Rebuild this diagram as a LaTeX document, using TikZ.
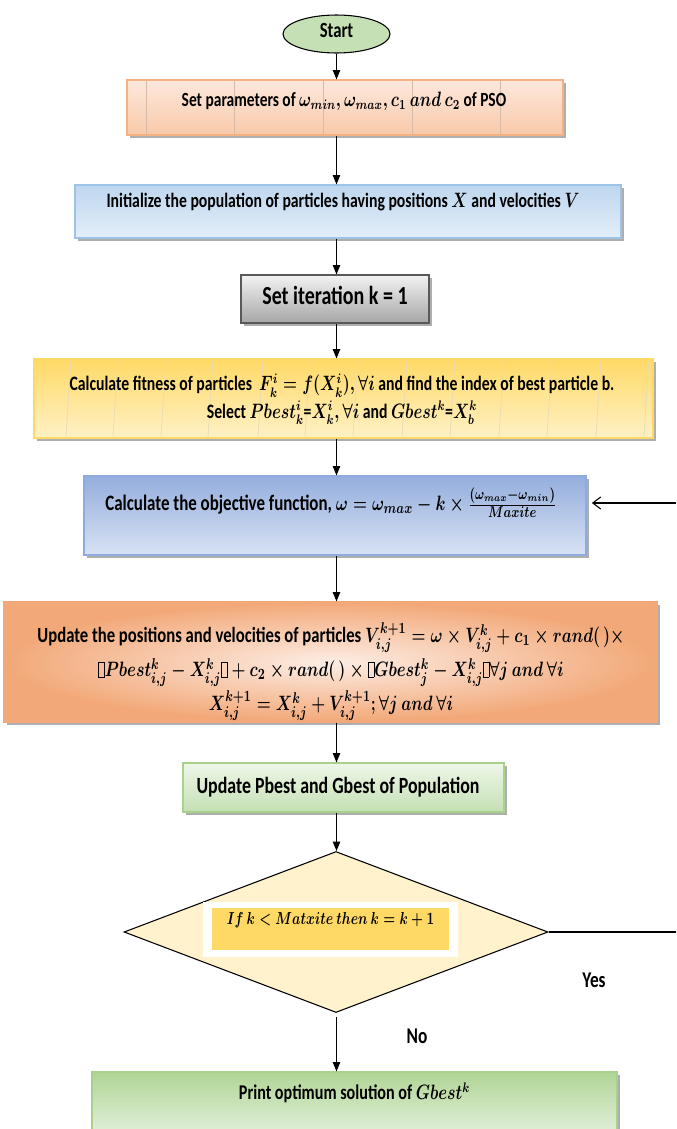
\documentclass[tikz,border=0pt]{standalone}
\usepackage{amsmath,amssymb,graphicx}
\usepackage{fontspec}
\setmainfont{Carlito}
\usetikzlibrary{shapes.geometric,shadows,arrows.meta}
\definecolor{orBord}{HTML}{F4B183}
\definecolor{orTop}{HTML}{FDE8DC}
\definecolor{orBot}{HTML}{F8C9A9}
\definecolor{blBord}{HTML}{9DC3E6}
\definecolor{blTop}{HTML}{BED6EE}
\definecolor{blBot}{HTML}{E3EEF9}
\definecolor{gyTop}{HTML}{F2F2F2}
\definecolor{gyBot}{HTML}{A6A6A6}
\definecolor{gyBord}{HTML}{595959}
\definecolor{ylTop}{HTML}{FFD966}
\definecolor{ylBot}{HTML}{FFF1C6}
\definecolor{ylBord}{HTML}{FFD966}
\definecolor{obTop}{HTML}{94AEDD}
\definecolor{obBot}{HTML}{D8E2F3}
\definecolor{obBord}{HTML}{8FAADC}
\definecolor{upEdge}{HTML}{F2A878}
\definecolor{upMid}{HTML}{FDEDE4}
\definecolor{grTop}{HTML}{EEF6E8}
\definecolor{grBot}{HTML}{C5E0B4}
\definecolor{grBord}{HTML}{A9D18E}
\definecolor{pgTop}{HTML}{B0D596}
\definecolor{pgBot}{HTML}{E7F2DF}
\definecolor{stFill}{HTML}{C5E0B4}
\definecolor{diaFill}{HTML}{FFF2CC}
\definecolor{inYel}{HTML}{FFD966}
\newcommand{\mbx}{{\setlength\fboxsep{0pt}\setlength\fboxrule{0.4pt}\fbox{\vphantom{X}\hspace{0.32em}}}}
\newcommand{\vs}[2][1.3]{\scalebox{1}[#1]{\begin{tabular}{@{}c@{}}#2\end{tabular}}}
\begin{document}
\begin{tikzpicture}[x=0.75pt,y=-0.75pt,
  box/.style={draw, rectangle, inner sep=0pt, line width=0.8pt,
    drop shadow={shadow xshift=2pt, shadow yshift=-2pt, fill=black!45, opacity=0.7}},
  arr/.style={-{Triangle[length=7pt,width=5.5pt]}, line width=0.8pt},
  txt/.style={align=center, inner sep=0pt, font=\bfseries\boldmath\fontsize{11.8}{14}\selectfont},
  tex1/.style={draw=#1, line width=0.5pt}
]
\clip (0,0) rectangle (676,1129);
\fill[white] (0,0) rectangle (676,1129);

% shapes
\node[ellipse, draw, line width=0.8pt, fill=stFill, minimum width={107*0.75pt}, minimum height={38*0.75pt}, inner sep=0pt] (start) at (336.5,34) {};
\node[box, draw=orBord, top color=orTop, bottom color=orBot, minimum width={436*0.75pt}, minimum height={55*0.75pt}] (b1) at (345,107.5) {};
\node[box, draw=blBord, top color=blTop, bottom color=blBot, minimum width={546*0.75pt}, minimum height={53*0.75pt}] (b2) at (348,211.5) {};
\node[box, draw=gyBord, top color=gyTop, bottom color=gyBot, minimum width={188*0.75pt}, minimum height={48*0.75pt}] (b3) at (335,299) {};
\node[box, draw=ylBord, top color=ylTop, bottom color=ylBot, minimum width={619*0.75pt}, minimum height={79*0.75pt}] (b4) at (343.5,398.5) {};
\node[box, draw=obBord, top color=obTop, bottom color=obBot, minimum width={502*0.75pt}, minimum height={79*0.75pt}] (b5) at (335,515.5) {};
\node[box, draw=upEdge, inner color=upMid, outer color=upEdge, minimum width={653*0.75pt}, minimum height={120*0.75pt}] (b6) at (330.5,662) {};
\node[box, draw=grBord, top color=grTop, bottom color=grBot, minimum width={321*0.75pt}, minimum height={49*0.75pt}] (b7) at (343.5,787.5) {};
\node[diamond, draw, line width=0.8pt, fill=diaFill, aspect=2.63, minimum width={424*0.75pt}, minimum height={161*0.75pt}, inner sep=0pt] (dia) at (336,932) {};
\node[rectangle, fill=white, minimum width={255*0.75pt}, minimum height={55*0.75pt}, inner sep=0pt] (inw) at (330.5,929.5) {};
\node[rectangle, fill=inYel, minimum width={237*0.75pt}, minimum height={42*0.75pt}, inner sep=0pt] (iny) at (330.5,929) {};
\node[box, draw=grBord, top color=pgTop, bottom color=pgBot, minimum width={525*0.75pt}, minimum height={68*0.75pt}] (b8) at (354.5,1106) {};

% textures
\foreach \xx in {146,234,323,412,500}
  \draw[tex1=orBord!60!gray!70] (\xx,81) -- (\xx,134);
\foreach \xx in {69,116,164,211,261,308,356,405,453,502,550,599,647}
  \draw[tex1=ylTop!60!gray!50] (\xx+2,360) -- (\xx-3,437);

% texts
\node[txt, font=\bfseries\fontsize{12.5}{14}\selectfont] (t0) at (336.5,33) {\vs{Start}};
\node[txt, font=\bfseries\boldmath\fontsize{11.6}{14}\selectfont] (t1) at (344,102) {\vs{Set parameters of $\omega_{min}, \omega_{max}, c_1\ and\ c_2$ of PSO}};
\node[txt] (t2) at (343,203) {\vs{Initialize the population of particles having positions $X$ and velocities $V$}};
\node[txt, font=\bfseries\fontsize{15}{17}\selectfont] (t3) at (335,299) {\vs{Set iteration k = 1}};
\node[txt, font=\bfseries\boldmath\fontsize{11.8}{16}\selectfont] (t4) at (342,399) {\vs{Calculate fitness of particles \ $F_k^i=f(X_k^i),\forall i$ and find the index of best particle b.\\ Select $Pbest_k^i$=$X_k^i,\forall i$ and $Gbest^k$=$X_b^k$}};
\node[txt, font=\bfseries\boldmath\fontsize{12.7}{15}\selectfont] (t5) at (331,503) {\vs{Calculate the objective function, $\omega=\omega_{max}-k\times\frac{(\omega_{max}-\omega_{min})}{Maxite}$}};
\node[txt, font=\bfseries\boldmath\fontsize{12.5}{19.6}\selectfont] (t6) at (331,670) {\vs{Update the positions and velocities of particles $V_{i,j}^{k+1}=\omega\times V_{i,j}^{k}+c_1\times rand(\,)\times$\\
$\mbx Pbest_{i,j}^{k}-X_{i,j}^{k}\mbx+c_2\times rand(\,)\times\mbx Gbest_{j}^{k}-X_{i,j}^{k}\mbx\forall j\ and\ \forall i$\\
$X_{i,j}^{k+1}=X_{i,j}^{k}+V_{i,j}^{k+1};\forall j\ and\ \forall i$}};
\node[txt, font=\bfseries\fontsize{13.4}{15}\selectfont] (t7) at (338,788) {\vs{Update Pbest and Gbest of Population}};
\node[txt, font=\bfseries\boldmath\fontsize{10.2}{13}\selectfont] (t8) at (330.5,920) {\vs{$If\ k<Matxite\ then\ k=k+1$}};
\node[txt, font=\bfseries\boldmath\fontsize{12.1}{14}\selectfont] (t9) at (354.5,1095) {\vs{Print optimum solution of $Gbest^k$}};
\node[txt, font=\bfseries\fontsize{13}{15}\selectfont] (yes) at (594,982) {\vs{Yes}};
\node[txt, font=\bfseries\fontsize{13}{15}\selectfont] (no) at (417,1038) {\vs{No}};

% connectors
\draw[arr] (start.south) -- (start.south |- b1.north);
\draw[arr] (b1.south -| start) -- (b2.north -| start);
\draw[arr] (b2.south -| start) -- (b3.north -| start);
\draw[arr] (b3.south -| start) -- (b4.north -| start);
\draw[arr] (b4.south -| start) -- (b5.north -| start);
\draw[arr] (b5.south -| start) -- (b6.north -| start);
\draw[arr] (b6.south -| start) -- (b7.north -| start);
\draw[arr] (b7.south -| start) -- (dia.north -| start);
\draw[arr] ([yshift=-3pt]dia.south -| start) -- (b8.north -| start);
\coordinate (loopA) at (676,932);
\coordinate (loopB) at (676,503);
\draw[line width=0.8pt] (dia.east) -- (loopA);
\draw[arr, -{Straight Barb[length=6pt,width=9pt]}, shorten >=4pt] (loopB) -- (b5.east |- loopB);
\end{tikzpicture}
\end{document}
